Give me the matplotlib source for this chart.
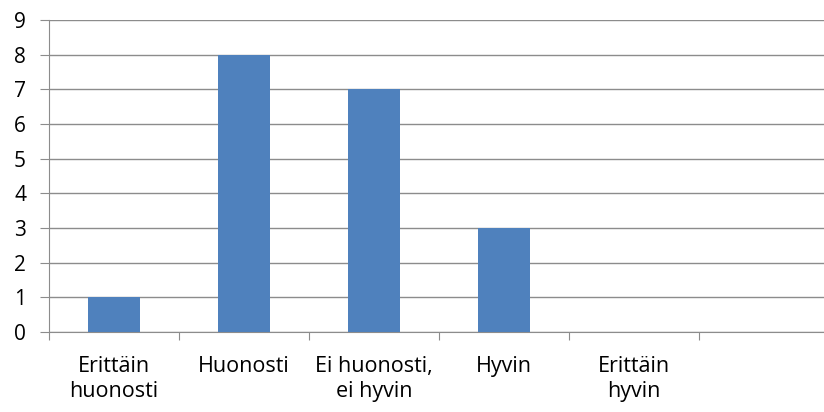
import matplotlib
matplotlib.use("Agg")
import matplotlib.pyplot as plt
import numpy as np

categories = ["Erittäin\nhuonosti", "Huonosti", "Ei huonosti,\nei hyvin", "Hyvin", "Erittäin\nhyvin", ""]
values = [1, 8, 7, 3, 0, 0]
yticks = list(range(0, 10))

plt.rcParams['font.family'] = ['Open Sans', 'DejaVu Sans']

fig = plt.figure(figsize=(8.24, 4.12), dpi=100)
ax = fig.add_axes([0.0595, 0.194, 0.9466, 0.757])

x = np.arange(len(categories))
ax.bar(x, values, width=0.4, color="#4F81BD", zorder=3)

ax.set_ylim(0, 9)
ax.set_yticks(yticks)
ax.set_yticklabels([str(v) for v in yticks], fontsize=15)
ax.set_xlim(-0.5, len(categories) - 0.5)
ax.set_xticks(np.arange(len(categories) + 1) - 0.5)
ax.set_xticklabels([])
ax.set_xticks(x, minor=True)
ax.set_xticklabels(categories, minor=True, fontsize=15.5, linespacing=1.25)

ax.grid(axis="y", color="#8c8c8c", linewidth=1, zorder=0)
for s in ["top", "right"]:
    ax.spines[s].set_visible(False)
ax.spines["left"].set_color("#8c8c8c")
ax.spines["bottom"].set_color("#8c8c8c")
ax.tick_params(axis="y", which="major", length=6.5, color="#8c8c8c", pad=10)
ax.tick_params(axis="x", which="major", length=6, color="#8c8c8c")
ax.tick_params(axis="x", which="minor", length=0, pad=17)

fig.savefig("out.png", dpi=100)
